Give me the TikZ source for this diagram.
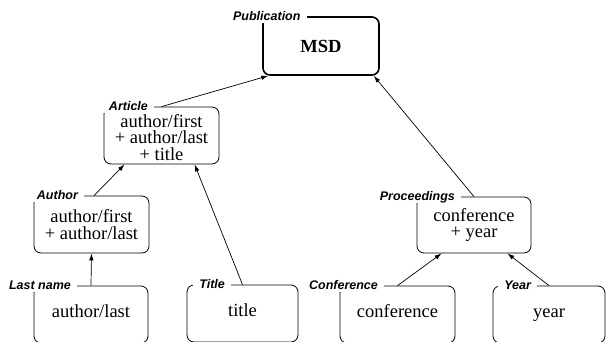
\documentclass[tikz,border=0pt]{standalone}
\usepackage{fontspec}
\setmainfont{Liberation Serif}
\newfontfamily\labelfont{Liberation Sans}
\usetikzlibrary{arrows.meta,calc}
\begin{document}
\begin{tikzpicture}[x=1pt,y=-1pt,
  box/.style={draw, line width=0.8pt, rounded corners=7pt, minimum width=115pt, minimum height=57pt, inner sep=0pt, align=center, font=\fontsize{18.5}{16.5}\selectfont},
  single/.style={text height=12.6pt, text depth=7pt},
  mainbox/.style={box, line width=1.6pt, font=\bfseries\fontsize{18.5}{16.5}\selectfont},
  tag/.style={fill=white, inner xsep=6.5pt, inner ysep=2.5pt, text height=8.6pt, text depth=0pt, anchor=east, font=\labelfont\bfseries\itshape\fontsize{12.5}{12.5}\selectfont},
  link/.style={-{Latex[length=7pt,width=4.5pt]}, line width=0.7pt}]
\path[use as bounding box, clip] (0,0) rectangle (606,341);
\fill[white] (0,0) rectangle (606,341);
% boxes
\node[mainbox, minimum width=116pt, minimum height=58pt] (msd) at (321,46) {MSD};
\node[box] (art) at (161.5,135.5) {\rule{0pt}{16.6pt}author/first\\+ author/last\\+ title};
\node[box] (author) at (91.5,224.5) {author/first\\+ author/last};
\node[box, single, minimum width=114pt] (last) at (91,314.5) {author/last};
\node[box, single, minimum width=111pt] (title) at (242.5,313.5) {title};
\node[box, minimum width=114pt, minimum height=56pt] (proc) at (474,225) {conference\\+ year};
\node[box, single] (conf) at (397.5,314.5) {conference};
\node[box, single, minimum width=112pt] (year) at (549,314.5) {year};
% labels
\node[tag] (lmsd) at ($(msd.north west)+(45,0)$) {Publication};
\node[tag] (lart) at ($(art.north west)+(51,0)$) {Article};
\node[tag] (lauthor) at ($(author.north west)+(51,0)$) {Author};
\node[tag] (llast) at ($(last.north west)+(44,0)$) {Last name};
\node[tag] (ltitle) at ($(title.north west)+(45,0)$) {Title};
\node[tag] (lproc) at ($(proc.north west)+(45,0)$) {Proceedings};
\node[tag] (lconf) at ($(conf.north west)+(45,0)$) {Conference};
\node[tag] (lyear) at ($(year.north west)+(45,0)$) {Year};
% connectors
\draw[link] (art.north) -- ($(msd.south west)+(6,0)$);
\draw[link] (proc.north) -- ($(msd.south east)+(-6,0)$);
\draw[link] ($(author.north)+(2.5,0)$) -- ($(art.south west)+(21,0)$);
\draw[link] (title.north) -- ($(art.south west)+(91,0)$);
\draw[link] (last.north) -- (author.south);
\draw[link] (conf.north) -- ($(proc.south west)+(25,0)$);
\draw[link] (year.north) -- ($(proc.south east)+(-24,0)$);
\end{tikzpicture}
\end{document}
